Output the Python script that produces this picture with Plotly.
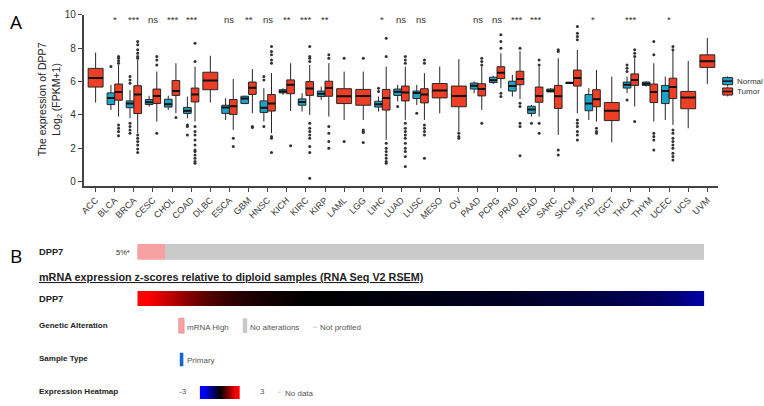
import plotly.graph_objects as go

# ---------------- Panel A data ----------------
categories = ["ACC", "BLCA", "BRCA", "CESC", "CHOL", "COAD", "DLBC", "ESCA", "GBM", "HNSC",
              "KICH", "KIRC", "KIRP", "LAML", "LGG", "LIHC", "LUAD", "LUSC", "MESO", "OV",
              "PAAD", "PCPG", "PRAD", "READ", "SARC", "SKCM", "STAD", "TGCT", "THCA", "THYM",
              "UCEC", "UCS", "UVM"]

sig_labels = ["", "*", "***", "ns", "***", "***", "", "ns", "**", "ns",
              "**", "***", "**", "", "", "*", "ns", "ns", "", "",
              "ns", "ns", "***", "***", "", "", "*", "", "***", "",
              "*", "", ""]

normal_cats = ["BLCA", "BRCA", "CESC", "CHOL", "COAD", "ESCA", "GBM", "HNSC", "KICH", "KIRC",
               "KIRP", "LIHC", "LUAD", "LUSC", "PAAD", "PCPG", "PRAD", "READ", "SARC", "SKCM",
               "STAD", "THCA", "THYM", "UCEC"]
normal_q1 = [4.62, 4.43, 4.62, 4.47, 4.09, 4.09, 4.68, 4.15, 5.32, 4.58,
             5.10, 4.47, 5.17, 4.98, 5.55, 5.94, 5.43, 4.09, 5.38, 5.88,
             4.25, 5.61, 5.77, 4.68]
normal_med = [5.02, 4.68, 4.76, 4.64, 4.25, 4.45, 4.98, 4.43, 5.41, 4.78,
              5.27, 4.64, 5.39, 5.32, 5.75, 6.08, 5.73, 4.33, 5.45, 5.92,
              4.68, 5.81, 5.87, 5.43]
normal_q3 = [5.32, 4.84, 4.92, 4.94, 4.45, 4.58, 5.12, 4.84, 5.51, 4.96,
             5.43, 4.82, 5.55, 5.43, 5.91, 6.26, 6.02, 4.52, 5.55, 5.96,
             5.22, 5.97, 5.97, 5.77]
normal_lo = [4.29, 3.80, 4.50, 4.30, 3.80, 3.70, 4.65, 3.60, 5.20, 4.20,
             4.90, 4.20, 4.80, 4.60, 5.30, 5.85, 5.10, 3.90, 5.35, 5.86,
             3.70, 5.30, 5.70, 3.70]
normal_hi = [5.80, 5.50, 5.15, 5.15, 5.10, 5.00, 5.15, 5.60, 5.60, 5.30,
             5.70, 5.10, 5.80, 5.80, 6.00, 6.35, 6.40, 4.60, 5.60, 5.98,
             5.60, 6.30, 6.00, 6.30]

tumor_q1 = [5.67, 4.88, 4.08, 4.68, 5.17, 4.78, 5.51, 4.03, 5.23, 4.23,
            5.27, 5.17, 5.12, 4.68, 4.58, 4.29, 4.84, 4.72, 5.02, 4.49,
            5.14, 6.18, 5.81, 4.76, 4.39, 5.73, 4.49, 3.66, 5.77, 4.74,
            4.98, 4.37, 6.85]
tumor_med = [6.22, 5.37, 5.22, 5.14, 5.43, 5.23, 6.06, 4.52, 5.63, 4.68,
             5.81, 5.59, 5.61, 5.12, 5.14, 5.02, 5.35, 5.22, 5.47, 5.14,
             5.55, 6.53, 6.16, 5.14, 5.12, 6.22, 4.94, 4.25, 6.10, 5.37,
             5.67, 5.04, 7.22]
tumor_q3 = [6.79, 5.85, 5.75, 5.55, 6.06, 5.61, 6.56, 4.92, 5.97, 5.22,
            6.10, 6.00, 6.02, 5.57, 5.53, 5.53, 5.73, 5.57, 5.88, 5.73,
            5.87, 6.89, 6.62, 5.67, 5.77, 6.69, 5.51, 4.74, 6.46, 5.85,
            6.20, 5.41, 7.60]
tumor_lo = [4.74, 3.90, 2.90, 3.60, 4.10, 3.60, 4.75, 3.10, 4.10, 2.90,
            4.23, 4.00, 3.90, 3.70, 3.70, 2.50, 3.70, 3.70, 4.10, 3.00,
            4.30, 5.60, 4.95, 3.90, 2.80, 4.10, 3.60, 2.36, 4.50, 3.60,
            3.40, 3.20, 5.86]
tumor_hi = [7.74, 7.00, 7.30, 6.60, 7.10, 6.90, 7.55, 6.15, 6.75, 6.50,
            7.10, 7.00, 7.10, 6.60, 6.60, 6.90, 6.90, 6.50, 6.90, 7.34,
            6.90, 7.70, 7.83, 6.90, 7.40, 7.90, 6.70, 6.30, 7.40, 7.10,
            7.90, 7.24, 8.62]

outlier_cat = (["BLCA"] * 9 + ["BRCA"] * 19 + ["CESC"] * 4 + ["CHOL"] + ["COAD"] * 16 +
               ["ESCA"] * 2 + ["GBM"] * 2 + ["HNSC"] * 11 + ["KICH"] + ["KIRC"] * 12 +
               ["KIRP"] * 6 + ["LAML"] * 2 + ["LGG"] * 5 + ["LIHC"] * 11 + ["LUAD"] * 14 +
               ["LUSC"] * 8 + ["OV"] * 3 + ["PAAD"] * 4 + ["PCPG"] * 5 + ["PRAD"] * 6 +
               ["READ"] * 5 + ["SARC"] * 4 + ["SKCM"] * 10 + ["STAD"] * 3 + ["THCA"] * 8 +
               ["THYM"] * 6 + ["UCEC"] * 11)
outlier_grp = (["N"] + ["T"] * 8 +
               ["N"] * 7 + ["T"] * 12 +
               ["T"] * 4 + ["T"] +
               ["N"] * 3 + ["T"] * 13 +
               ["T"] * 2 + ["T"] * 2 +
               ["N"] * 3 + ["T"] * 8 +
               ["T"] + ["T"] * 12 +
               ["T"] * 6 + ["T"] * 2 + ["T"] * 5 +
               ["N"] * 2 + ["T"] * 9 +
               ["N"] + ["T"] * 13 +
               ["N"] + ["T"] * 7 +
               ["T"] * 3 + ["T"] * 4 + ["T"] * 5 + ["T"] * 6 +
               ["N"] + ["T"] * 4 +
               ["T"] * 4 + ["T"] * 10 + ["T"] * 3 +
               ["N"] * 4 + ["T"] * 4 +
               ["T"] * 6 + ["T"] * 11)
outlier_val = ([6.9, 7.5, 7.4, 7.25, 7.1, 3.4, 3.2, 3.0, 2.75] +
               [6.3, 6.1, 5.9, 3.5, 3.3, 3.1, 2.9, 8.4, 8.2, 7.9, 7.7, 7.5, 7.4, 2.8, 2.6, 2.4, 2.2, 1.95, 1.75] +
               [7.5, 7.3, 7.0, 2.9] + [3.85] +
               [3.4, 3.3, 2.8, 8.3, 7.2, 3.3, 3.0, 2.8, 2.5, 2.2, 1.9, 1.8, 1.6, 1.4, 1.2, 1.1] +
               [2.6, 2.1] + [3.3, 3.25] +
               [6.3, 6.1, 3.3, 8.1, 7.8, 7.6, 7.3, 7.1, 2.7, 2.6, 1.75] +
               [2.15] +
               [8.1, 7.5, 7.4, 7.2, 3.5, 3.2, 3.0, 2.8, 2.6, 2.1, 1.75, 0.2] +
               [7.6, 7.4, 3.3, 2.9, 2.4, 2.0] + [7.4, 2.4] + [7.4, 3.1, 3.0, 2.95, 2.35] +
               [5.6, 5.4, 8.6, 7.5, 2.3, 2.0, 1.8, 1.6, 1.4, 1.2, 1.1] +
               [4.5, 7.5, 7.3, 7.1, 3.5, 3.2, 3.0, 2.8, 2.6, 2.3, 2.0, 1.8, 1.5, 0.9] +
               [4.1, 7.3, 7.1, 3.4, 3.2, 3.0, 2.8, 1.4] +
               [2.9, 2.7, 2.6] + [7.4, 7.2, 7.0, 3.5] + [8.8, 8.4, 8.0, 5.3, 5.1] +
               [8.0, 4.7, 4.5, 3.5, 3.3, 1.55] +
               [3.5, 7.3, 7.0, 3.5, 2.9] +
               [7.9, 7.8, 1.9, 1.6] +
               [9.3, 8.9, 8.7, 8.5, 3.7, 3.5, 3.3, 3.0, 2.8, 2.5] +
               [3.2, 3.0, 2.9] +
               [7.0, 6.8, 6.6, 4.9, 7.9, 7.7, 7.5, 3.6] +
               [8.4, 7.6, 2.9, 2.7, 2.5, 1.9] +
               [8.1, 7.9, 3.1, 2.9, 2.6, 2.4, 2.2, 2.0, 1.7, 1.5, 1.3])

# ---------------- Panel B data ----------------
gene = "DPP7"
altered_pct = 5
unaltered_pct = 95
zscores_sorted = [3.0, 2.4, 1.7, 1.1, 0.7, 0.45, 0.28, 0.15, 0.06, 0.0,
                  -0.04, -0.08, -0.12, -0.16, -0.2, -0.24, -0.28, -0.33, -0.38, -0.44,
                  -0.5, -0.57, -0.64, -0.72, -0.8, -0.9, -1.0, -1.15, -1.4, -1.85]
legend_scale = [-3, -1.5, 0, 1.5, 3]

# ---------------- styles ----------------
NORMAL_COLOR = "#1CA3C9"
TUMOR_COLOR = "#EE3F26"
LINE_COLOR = "#262626"
AXIS_COLOR = "#444444"
FONT = "Liberation Sans, Arial, sans-serif"
W, H = 764, 406


def px(x):
    return x / W


def py(y):
    return 1 - y / H


idx = {c: i for i, c in enumerate(categories)}
has_normal = set(normal_cats)
OFF = 0.2
PW = 0.4
SW = 0.78

normal_x = [idx[c] - OFF for c in normal_cats]
paired_t = [i for i, c in enumerate(categories) if c in has_normal]
single_t = [i for i, c in enumerate(categories) if c not in has_normal]

fig = go.Figure()


def add_box(xs, q1, med, q3, lo, hi, width, color, name):
    fig.add_trace(go.Box(
        x=xs, q1=q1, median=med, q3=q3, lowerfence=lo, upperfence=hi,
        width=width, fillcolor=color, line=dict(color=LINE_COLOR, width=1),
        whiskerwidth=0, boxpoints=False, name=name, showlegend=False, hoverinfo="skip"))
    # thicker median lines
    mx, my = [], []
    for x, m in zip(xs, med):
        mx += [x - width / 2, x + width / 2, None]
        my += [m, m, None]
    fig.add_trace(go.Scatter(x=mx, y=my, mode="lines", line=dict(color="#111111", width=2),
                             showlegend=False, hoverinfo="skip"))


add_box(normal_x, normal_q1, normal_med, normal_q3, normal_lo, normal_hi, PW, NORMAL_COLOR, "Normal")
add_box([i + OFF for i in paired_t], [tumor_q1[i] for i in paired_t], [tumor_med[i] for i in paired_t],
        [tumor_q3[i] for i in paired_t], [tumor_lo[i] for i in paired_t], [tumor_hi[i] for i in paired_t],
        PW, TUMOR_COLOR, "Tumor")
add_box(single_t, [tumor_q1[i] for i in single_t], [tumor_med[i] for i in single_t],
        [tumor_q3[i] for i in single_t], [tumor_lo[i] for i in single_t], [tumor_hi[i] for i in single_t],
        SW, TUMOR_COLOR, "Tumor")

ox = []
for c, g in zip(outlier_cat, outlier_grp):
    i = idx[c]
    if c in has_normal:
        ox.append(i - OFF if g == "N" else i + OFF)
    else:
        ox.append(i)
fig.add_trace(go.Scatter(x=ox, y=outlier_val, mode="markers",
                         marker=dict(size=3, color="#333333"), showlegend=False, hoverinfo="skip"))

# ---------------- Panel B traces ----------------
fig.add_trace(go.Bar(x=[altered_pct], y=[0], orientation="h", width=1, marker=dict(color="#F7A1A3", line=dict(width=0)),
                     xaxis="x2", yaxis="y2", showlegend=False, hoverinfo="skip"))
fig.add_trace(go.Bar(x=[unaltered_pct], y=[0], orientation="h", width=1, marker=dict(color="#C9C9C9", line=dict(width=0)),
                     xaxis="x2", yaxis="y2", showlegend=False, hoverinfo="skip"))

cs = [[0, "#0000FF"], [0.5, "#000000"], [1, "#FF0000"]]
fig.add_trace(go.Heatmap(z=[zscores_sorted], colorscale=cs, zmin=-3, zmax=3, zsmooth="best",
                         showscale=False, xaxis="x3", yaxis="y3", hoverinfo="skip"))
fig.add_trace(go.Heatmap(z=[legend_scale], colorscale=cs, zmin=-3, zmax=3, zsmooth="best",
                         showscale=False, xaxis="x4", yaxis="y4", hoverinfo="skip"))

# ---------------- layout ----------------
annotations = []
for i, s in enumerate(sig_labels):
    if s:
        annotations.append(dict(x=i, y=9.72, xref="x", yref="y", text=s, showarrow=False,
                                font=dict(family=FONT, size=9.5, color="#333333"),
                                xanchor="center", yanchor="middle"))

annotations.append(dict(x=px(46), y=py(96), xref="paper", yref="paper", xanchor="center", yanchor="middle",
                        text="The expression of DPP7<br>Log<sub>2</sub> (FPKM+1)", textangle=-90,
                        showarrow=False, font=dict(family=FONT, size=10.5, color="#222222")))
annotations.append(dict(x=px(4), y=py(17), xref="paper", yref="paper", text="A", showarrow=False,
                        xanchor="left", yanchor="middle", font=dict(family="Open Sans, sans-serif", size=19, color="#000")))
annotations.append(dict(x=px(4), y=py(255), xref="paper", yref="paper", text="B", showarrow=False,
                        xanchor="left", yanchor="middle", font=dict(family="Open Sans, sans-serif", size=19, color="#000")))

# legend (custom)
shapes = []
for name, color, yc in [("Normal", NORMAL_COLOR, 77.3), ("Tumor", TUMOR_COLOR, 87.8)]:
    shapes.append(dict(type="line", xref="paper", yref="paper", x0=px(727.5), x1=px(727.5),
                       y0=py(yc - 5), y1=py(yc + 5), line=dict(color=LINE_COLOR, width=1)))
    shapes.append(dict(type="rect", xref="paper", yref="paper", x0=px(722.5), x1=px(732.5),
                       y0=py(yc - 3.6), y1=py(yc + 3.6), fillcolor=color, line=dict(color=LINE_COLOR, width=1)))
    shapes.append(dict(type="line", xref="paper", yref="paper", x0=px(722.5), x1=px(732.5),
                       y0=py(yc), y1=py(yc), line=dict(color="#111", width=1.5)))
    annotations.append(dict(x=px(735), y=py(yc), xref="paper", yref="paper", text=name, showarrow=False,
                            xanchor="left", yanchor="middle", font=dict(family=FONT, size=8, color="#333333")))


def btxt(x, y, t, size=8, bold=False, color="#222222", **kw):
    annotations.append(dict(x=px(x - 2.5), y=py(y), xref="paper", yref="paper", text=f"<b>{t}</b>" if bold else t,
                            showarrow=False, xanchor="left", yanchor="middle",
                            font=dict(family=FONT, size=size, color=color, **kw)))


btxt(35.5, 251, gene, size=9.3, bold=True)
btxt(113, 251, f"{altered_pct}%*", size=7.5, color="#333333")
btxt(35.5, 276, "mRNA expression z-scores relative to diploid samples (RNA Seq V2 RSEM)", size=10.8, bold=True,
     color="#222222", lineposition="under")
btxt(35.5, 298.5, gene, size=9.3, bold=True)
btxt(35.5, 325, "Genetic Alteration", size=8, bold=True)
btxt(35.5, 358.5, "Sample Type", size=8, bold=True)
btxt(35.5, 392.5, "Expression Heatmap", size=8, bold=True)

btxt(184, 327, "mRNA High", color="#555555")
btxt(247.7, 327, "No alterations", color="#555555")
btxt(318, 327, "Not profiled", color="#555555")
btxt(184, 360.5, "Primary", color="#555555")
btxt(176.7, 392.5, "-3", color="#555555")
btxt(258.3, 392.5, "3", color="#555555")
btxt(282.7, 394, "No data", color="#555555")

shapes += [
    dict(type="rect", xref="paper", yref="paper", x0=px(175.7), x1=px(181), y0=py(333), y1=py(318),
         fillcolor="#F7A1A3", line=dict(color="#E58E90", width=0.8)),
    dict(type="rect", xref="paper", yref="paper", x0=px(240), x1=px(244.5), y0=py(333), y1=py(318),
         fillcolor="#C9C9C9", line=dict(width=0)),
    dict(type="line", xref="paper", yref="paper", x0=px(310.7), x1=px(315), y0=py(327), y1=py(327),
         line=dict(color="#CFCFCF", width=1)),
    dict(type="rect", xref="paper", yref="paper", x0=px(176.7), x1=px(180.3), y0=py(366.7), y1=py(353),
         fillcolor="#1565D0", line=dict(width=0)),
    dict(type="line", xref="paper", yref="paper", x0=px(275.5), x1=px(278.5), y0=py(393), y1=py(393),
         line=dict(color="#CFCFCF", width=1)),
]

hidden = dict(visible=False, fixedrange=True)
fig.update_layout(
    width=W, height=H, margin=dict(l=0, r=0, t=0, b=0),
    paper_bgcolor="white", plot_bgcolor="white",
    showlegend=False, barmode="stack", bargap=0,
    xaxis=dict(domain=[px(80), px(718)], range=[-0.63, 32.57], tickmode="array",
               tickvals=list(range(len(categories))), ticktext=categories, tickangle=-45,
               tickfont=dict(family=FONT, size=9, color="#333333"),
               showline=True, linecolor=AXIS_COLOR, linewidth=1.5, ticks="outside", ticklen=4,
               tickcolor=AXIS_COLOR, showgrid=False, zeroline=False),
    yaxis=dict(domain=[py(183.5), py(10)], range=[-0.25, 10], tickvals=[0, 2, 4, 6, 8, 10],
               tickfont=dict(family=FONT, size=10, color="#333333"),
               showline=True, linecolor=AXIS_COLOR, linewidth=1.5, ticks="outside", ticklen=4,
               tickcolor=AXIS_COLOR, showgrid=False, zeroline=False),
    xaxis2=dict(domain=[px(134), px(704)], range=[0, 100], anchor="y2", **hidden),
    yaxis2=dict(domain=[py(258.5), py(242.7)], range=[-0.5, 0.5], anchor="x2", **hidden),
    xaxis3=dict(domain=[px(134), px(704)], range=[-0.5, len(zscores_sorted) - 0.5], anchor="y3", **hidden),
    yaxis3=dict(domain=[py(305.7), py(290.3)], range=[-0.5, 0.5], anchor="x3", **hidden),
    xaxis4=dict(domain=[px(196.7), px(237.3)], range=[-0.5, len(legend_scale) - 0.5], anchor="y4", **hidden),
    yaxis4=dict(domain=[py(400), py(386.7)], range=[-0.5, 0.5], anchor="x4", **hidden),
    annotations=annotations, shapes=shapes,
)

fig.write_html("out.html", config={"responsive": False, "displayModeBar": False},
               post_script="document.body.style.margin='0px';document.body.style.overflow='hidden';")
